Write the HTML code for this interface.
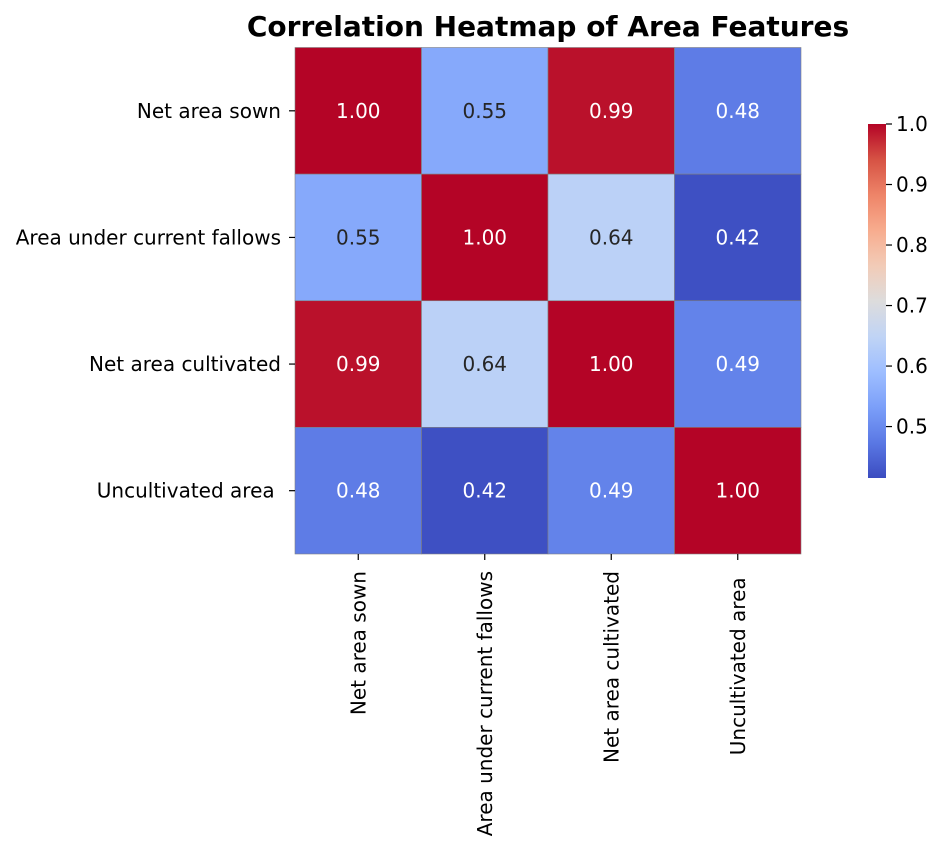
<!DOCTYPE html>
<html><head><meta charset="utf-8"><style>
body{margin:0;background:#fff;font-family:"DejaVu Sans","Liberation Sans",sans-serif;}
svg{display:block}
</style></head><body>
<svg id="chart" width="946" height="849" xmlns="http://www.w3.org/2000/svg">
<text x="548" y="36" text-anchor="middle" font-size="28" font-weight="bold" fill="#000">Correlation Heatmap of Area Features</text>
<g id="cells"></g><g id="labels"></g><g id="cbar"></g>
</svg>
<script>
const categories = ["Net area sown","Area under current fallows","Net area cultivated","Uncultivated area\u00a0"];
const row0 = [1.00,0.55,0.99,0.48];
const row1 = [0.55,1.00,0.64,0.42];
const row2 = [0.99,0.64,1.00,0.49];
const row3 = [0.48,0.42,0.49,1.00];
const colorbarTicks = [0.5,0.6,0.7,0.8,0.9,1.0];
const vmin = 0.415, vmax = 1.0;

const rows=[row0,row1,row2,row3];
const NS="http://www.w3.org/2000/svg";
const X0=295,X1=801,Y0=47.5,Y1=554;
const n=categories.length, cw=(X1-X0)/n, ch=(Y1-Y0)/n;
const FS=20;
const stops=["#3b4cc0","#5a78e4","#7b9ff9","#9ebeff","#c0d4f5","#dddcdc","#f2cbb7","#f7ac8e","#ee8468","#d65244","#b40426"];
function hex(h){return [1,3,5].map(i=>parseInt(h.substr(i,2),16));}
function cmap(t){t=Math.max(0,Math.min(1,t));const p=t*10,i=Math.min(9,Math.floor(p)),f=p-i;const a=hex(stops[i]),b=hex(stops[i+1]);return a.map((v,k)=>Math.round(v+(b[k]-v)*f));}
function rgb(c){return "rgb("+c.join(",")+")";}
function norm(v){return (v-vmin)/(vmax-vmin);}
function el(tag,attrs,parent){const e=document.createElementNS(NS,tag);for(const k in attrs)e.setAttribute(k,attrs[k]);parent.appendChild(e);return e;}
const gc=document.getElementById("cells"),gl=document.getElementById("labels"),gb=document.getElementById("cbar");
rows.forEach((r,i)=>r.forEach((v,j)=>{
  const c=cmap(norm(v));
  const rect=el("rect",{x:X0+j*cw,y:Y0+i*ch,width:cw,height:ch,fill:rgb(c),stroke:"#808080","stroke-width":0.6},gc);
  
  
  const lum=0.299*c[0]+0.587*c[1]+0.114*c[2];
  const t=el("text",{x:X0+(j+0.5)*cw,y:Y0+(i+0.5)*ch+7,"text-anchor":"middle","font-size":FS,fill:lum>150?"#262626":"#fff"},gc);
  t.textContent=v.toFixed(2);
  
  
}));
categories.forEach((c,i)=>{
  const y=Y0+(i+0.5)*ch;
  el("line",{x1:X0-6,x2:X0,y1:y,y2:y,stroke:"#000","stroke-width":1.2},gl);
  const t=el("text",{x:X0-14,y:y+7,"text-anchor":"end","font-size":FS,fill:"#000"},gl);
  t.textContent=c;
  
  
  const x=X0+(i+0.5)*cw;
  el("line",{x1:x,x2:x,y1:Y1,y2:Y1+6,stroke:"#000","stroke-width":1.2},gl);
  const u=el("text",{x:0,y:0,"text-anchor":"end","font-size":FS,fill:"#000",transform:`translate(${x+7},${Y1+17}) rotate(-90)`},gl);
  u.textContent=c;
  
  
});
const CX=868,CW=18,CT=124,CB=478;
const defs=el("defs",{},gb);
const grad=el("linearGradient",{id:"cg",x1:0,y1:1,x2:0,y2:0},defs);
for(let k=0;k<=20;k++){el("stop",{offset:k/20,"stop-color":rgb(cmap(k/20))},grad);}
const cb=el("rect",{x:CX,y:CT,width:CW,height:CB-CT,fill:"url(#cg)"},gb);


colorbarTicks.forEach(v=>{
  const y=CB-(CB-CT)*norm(v);
  el("line",{x1:CX+CW,x2:CX+CW+6,y1:y,y2:y,stroke:"#000","stroke-width":1.2},gb);
  const t=el("text",{x:CX+CW+10,y:y+7,"font-size":FS,fill:"#000"},gb);
  t.textContent=v.toFixed(1);
  
  
});
</script>
</body></html>
